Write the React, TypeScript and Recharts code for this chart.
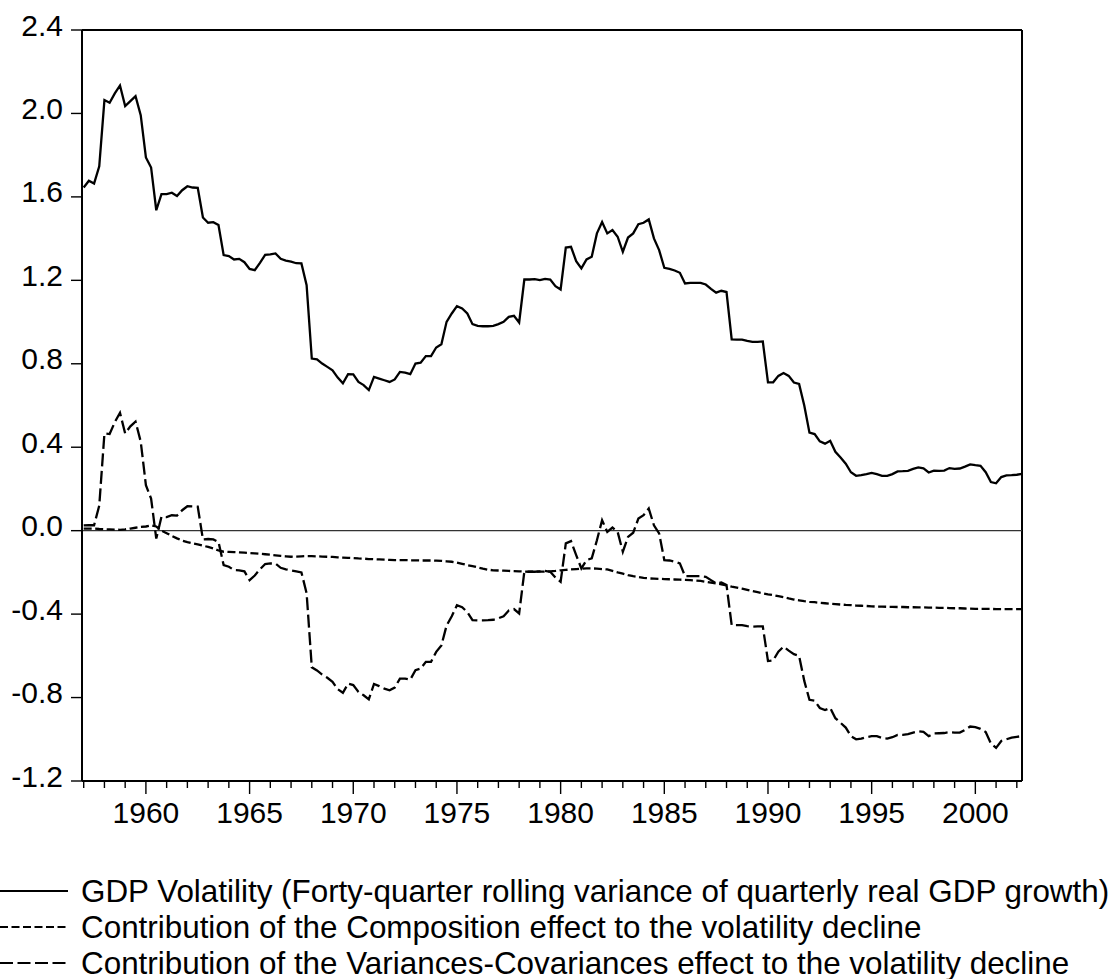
import React from "react";
import { LineChart, Line, XAxis, YAxis, ReferenceLine } from "recharts";

// quarterly observations, 1957Q1 .. 2002Q2
const START_YEAR = 1957;

const GDP_VOLATILITY = [
  1.645, 1.677, 1.664, 1.747, 2.064, 2.051, 2.096, 2.134, 2.035, 2.059,
  2.083, 1.992, 1.789, 1.741, 1.536, 1.613, 1.613, 1.62, 1.604, 1.632,
  1.651, 1.645, 1.643, 1.501, 1.476, 1.479, 1.465, 1.321, 1.316, 1.3,
  1.303, 1.287, 1.255, 1.249, 1.284, 1.322, 1.324, 1.329, 1.303, 1.295,
  1.29, 1.282, 1.281, 1.177, 0.825, 0.821, 0.801, 0.785, 0.769, 0.734,
  0.706, 0.75, 0.749, 0.713, 0.698, 0.674, 0.737, 0.729, 0.721, 0.713,
  0.725, 0.761, 0.758, 0.75, 0.801, 0.805, 0.837, 0.837, 0.878, 0.894,
  1.001, 1.041, 1.076, 1.065, 1.041, 0.99, 0.982, 0.98, 0.98, 0.982,
  0.99, 1.001, 1.025, 1.03, 0.998, 1.204, 1.204, 1.206, 1.201, 1.207,
  1.204, 1.172, 1.156, 1.357, 1.361, 1.292, 1.257, 1.3, 1.313, 1.425,
  1.48, 1.425, 1.441, 1.409, 1.337, 1.405, 1.425, 1.469, 1.476, 1.492,
  1.401, 1.345, 1.26, 1.255, 1.247, 1.236, 1.185, 1.188, 1.188, 1.188,
  1.18, 1.159, 1.141, 1.15, 1.144, 0.917, 0.916, 0.916, 0.91, 0.905,
  0.905, 0.907, 0.711, 0.711, 0.742, 0.756, 0.742, 0.71, 0.703, 0.6,
  0.47, 0.463, 0.428, 0.417, 0.431, 0.378, 0.351, 0.321, 0.28, 0.263,
  0.266, 0.271, 0.277, 0.271, 0.263, 0.263, 0.271, 0.284, 0.285, 0.287,
  0.296, 0.303, 0.299, 0.279, 0.288, 0.287, 0.288, 0.3, 0.296, 0.298,
  0.307, 0.318, 0.314, 0.311, 0.28, 0.233, 0.227, 0.257, 0.265, 0.266,
  0.268, 0.272,
];

const COMPOSITION = [
  0.01, 0.01, 0.01, 0.008, 0.007, 0.006, 0.005, 0.004, 0.006, 0.01,
  0.014, 0.018, 0.02, 0.025, 0.02, 0.0, -0.012, -0.025, -0.037, -0.048,
  -0.055, -0.061, -0.066, -0.072, -0.078, -0.085, -0.095, -0.101, -0.102, -0.103,
  -0.104, -0.105, -0.107, -0.109, -0.111, -0.113, -0.115, -0.118, -0.121, -0.123,
  -0.125, -0.124, -0.123, -0.122, -0.122, -0.123, -0.124, -0.125, -0.126, -0.128,
  -0.129, -0.13, -0.131, -0.133, -0.134, -0.136, -0.137, -0.138, -0.139, -0.14,
  -0.141, -0.141, -0.141, -0.142, -0.142, -0.143, -0.143, -0.143, -0.144, -0.145,
  -0.147, -0.149, -0.153, -0.159, -0.165, -0.17, -0.176, -0.182, -0.187, -0.19,
  -0.191, -0.192, -0.193, -0.194, -0.195, -0.196, -0.197, -0.197, -0.196, -0.196,
  -0.195, -0.193, -0.19, -0.188, -0.186, -0.184, -0.182, -0.181, -0.181, -0.182,
  -0.184, -0.186, -0.193, -0.2, -0.206, -0.213, -0.218, -0.222, -0.226, -0.229,
  -0.23, -0.231, -0.232, -0.233, -0.234, -0.235, -0.236, -0.237, -0.239, -0.241,
  -0.245, -0.249, -0.253, -0.257, -0.262, -0.268, -0.273, -0.278, -0.284, -0.29,
  -0.295, -0.3, -0.305, -0.309, -0.314, -0.319, -0.325, -0.33, -0.334, -0.338,
  -0.341, -0.343, -0.346, -0.348, -0.35, -0.352, -0.354, -0.356, -0.357, -0.359,
  -0.36, -0.361, -0.363, -0.364, -0.364, -0.365, -0.365, -0.366, -0.366, -0.367,
  -0.367, -0.368, -0.368, -0.369, -0.369, -0.37, -0.37, -0.371, -0.372, -0.372,
  -0.373, -0.374, -0.375, -0.375, -0.375, -0.375, -0.376, -0.376, -0.376, -0.376,
  -0.376, -0.376,
];

const VARIANCES_COVARIANCES = [
  0.025, 0.026, 0.026, 0.12, 0.466, 0.463, 0.52, 0.565, 0.466, 0.5,
  0.523, 0.427, 0.218, 0.154, -0.038, 0.066, 0.065, 0.074, 0.072, 0.098,
  0.117, 0.116, 0.115, -0.042, -0.04, -0.042, -0.054, -0.165, -0.173, -0.189,
  -0.19, -0.195, -0.237, -0.215, -0.185, -0.16, -0.157, -0.158, -0.178, -0.185,
  -0.19, -0.195, -0.2, -0.3, -0.655, -0.67, -0.69, -0.705, -0.725, -0.76,
  -0.777, -0.733, -0.74, -0.773, -0.789, -0.809, -0.735, -0.745, -0.757, -0.765,
  -0.752, -0.709, -0.709, -0.714, -0.669, -0.661, -0.629, -0.629, -0.581, -0.55,
  -0.455, -0.41, -0.357, -0.367, -0.39, -0.429, -0.43, -0.43, -0.429, -0.427,
  -0.42, -0.41, -0.383, -0.376, -0.397, -0.197, -0.197, -0.197, -0.195, -0.193,
  -0.197, -0.225, -0.245, -0.061, -0.05, -0.117, -0.181, -0.141, -0.133, -0.046,
  0.05, -0.006, 0.015, -0.006, -0.101, -0.03, -0.01, 0.058, 0.074, 0.106,
  0.026, -0.013, -0.141, -0.143, -0.149, -0.157, -0.218, -0.218, -0.218, -0.218,
  -0.221, -0.237, -0.253, -0.248, -0.261, -0.453, -0.453, -0.453, -0.458, -0.46,
  -0.459, -0.459, -0.625, -0.622, -0.58, -0.556, -0.575, -0.592, -0.6, -0.72,
  -0.811, -0.815, -0.85, -0.86, -0.85, -0.899, -0.921, -0.944, -0.985, -1.0,
  -0.997, -0.99, -0.985, -0.985, -0.994, -0.997, -0.99, -0.979, -0.979, -0.975,
  -0.968, -0.962, -0.965, -0.985, -0.972, -0.971, -0.97, -0.966, -0.968, -0.968,
  -0.955, -0.939, -0.942, -0.95, -0.965, -1.02, -1.041, -1.008, -1.0, -0.992,
  -0.988, -0.985,
];

const YEAR_TICKS = [
  1957, 1958, 1959, 1960, 1961, 1962, 1963, 1964, 1965, 1966, 1967, 1968,
  1969, 1970, 1971, 1972, 1973, 1974, 1975, 1976, 1977, 1978, 1979, 1980,
  1981, 1982, 1983, 1984, 1985, 1986, 1987, 1988, 1989, 1990, 1991, 1992,
  1993, 1994, 1995, 1996, 1997, 1998, 1999, 2000, 2001, 2002,
];
const VALUE_TICKS = [-1.2, -0.8, -0.4, 0, 0.4, 0.8, 1.2, 1.6, 2.0, 2.4];

const LEGEND_LABELS = [
  "GDP Volatility (Forty-quarter rolling variance of quarterly real GDP growth)",
  "Contribution of the Composition effect to the volatility decline",
  "Contribution of the Variances-Covariances effect to the volatility decline",
];
const DASHES = ["", "8 3.5", "13 4.5"];

const FONT = "'Liberation Sans', Arial, Helvetica, sans-serif";

const data = GDP_VOLATILITY.map((v, i) => ({
  t: START_YEAR + i / 4,
  gdp: v,
  comp: COMPOSITION[i],
  varcov: VARIANCES_COVARIANCES[i],
}));

function YearTick(props: any) {
  const { x, y, payload } = props;
  const major = payload.value % 5 === 0;
  return (
    <g>
      <line x1={x} x2={x} y1={y} y2={y + (major ? 13 : 7)} stroke="#000" strokeWidth={1.4} />
      {major && (
        <text x={x} y={y + 42} textAnchor="middle" fontSize={30} fontFamily={FONT} fill="#000">
          {payload.value}
        </text>
      )}
    </g>
  );
}

function ValueTick(props: any) {
  const { x, y, payload } = props;
  return (
    <g>
      <line x1={x - 11} x2={x} y1={y} y2={y} stroke="#000" strokeWidth={1.4} />
      <text x={x - 19} y={y + 5.5} textAnchor="end" fontSize={30} fontFamily={FONT} fill="#000">
        {payload.value.toFixed(1)}
      </text>
    </g>
  );
}

function ChartLegend() {
  return (
    <svg width={1119} height={110} style={{ position: "absolute", left: 0, top: 870 }}>
      {LEGEND_LABELS.map((label, i) => {
        const cy = 21 + i * 36;
        return (
          <g key={label}>
            <line x1={0} x2={68} y1={cy} y2={cy} stroke="#000" strokeWidth={2} strokeDasharray={DASHES[i]} />
            <text x={81} y={cy + 10.5} fontSize={31.4} fontFamily={FONT} fill="#000">
              {label}
            </text>
          </g>
        );
      })}
    </svg>
  );
}

export default function App() {
  return (
    <div style={{ position: "absolute", left: 0, top: 0, width: 1119, height: 979, background: "#fff" }}>
      <LineChart width={1119} height={979} data={data} margin={{ top: 30, right: 97, bottom: 138, left: 0 }}>
        <XAxis
          dataKey="t"
          type="number"
          domain={[1956.918, 2002.25]}
          allowDataOverflow
          ticks={YEAR_TICKS}
          interval={0}
          tickSize={0}
          tickMargin={0}
          tickLine={false}
          tick={<YearTick />}
          height={60}
          axisLine={{ stroke: "#000", strokeWidth: 2 }}
        />
        <YAxis
          type="number"
          domain={[-1.2, 2.4]}
          ticks={VALUE_TICKS}
          interval={0}
          width={82}
          tickSize={0}
          tickMargin={0}
          tickLine={false}
          tick={<ValueTick />}
          axisLine={{ stroke: "#000", strokeWidth: 2 }}
        />
        <ReferenceLine y={2.4} stroke="#000" strokeWidth={2} />
        <ReferenceLine x={2002.25} stroke="#000" strokeWidth={2} />
        <ReferenceLine y={0} stroke="#333" strokeWidth={1.3} />
        <Line dataKey="gdp" type="linear" stroke="#000" strokeWidth={2.3} dot={false} isAnimationActive={false} />
        <Line
          dataKey="comp"
          type="linear"
          stroke="#000"
          strokeWidth={2.3}
          strokeDasharray="8 3.5"
          dot={false}
          isAnimationActive={false}
        />
        <Line
          dataKey="varcov"
          type="linear"
          stroke="#000"
          strokeWidth={2.3}
          strokeDasharray="13 4.5"
          dot={false}
          isAnimationActive={false}
        />
      </LineChart>
      <ChartLegend />
    </div>
  );
}
